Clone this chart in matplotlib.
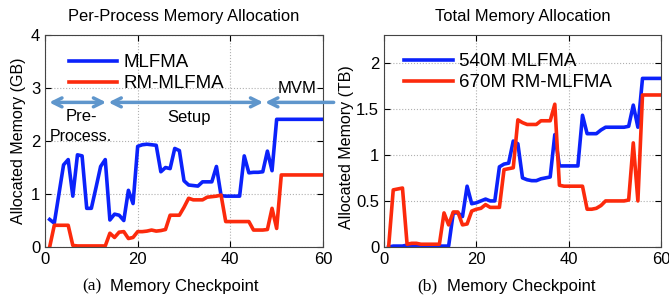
import numpy as np
import matplotlib
matplotlib.use("Agg")
import matplotlib.pyplot as plt

plt.rcParams['font.family'] = ['Liberation Sans', 'DejaVu Sans']

# memory checkpoints 1..60
checkpoints = np.arange(1, 61)

# (a) per-process memory (GB)
per_mlfma = [0.52, 0.45, 1.0, 1.55, 1.65, 0.96, 1.74, 1.72, 0.73, 0.73,
             1.12, 1.52, 1.65, 0.51, 0.62, 0.6, 0.5, 1.07, 0.82, 1.9,
             1.93, 1.94, 1.93, 1.92, 1.42, 1.5, 1.48, 1.86, 1.82, 1.25,
             1.17, 1.16, 1.15, 1.23, 1.23, 1.23, 1.52, 0.97, 0.96, 0.96,
             0.96, 0.96, 1.72, 1.4, 1.41, 1.41, 1.42, 1.81, 1.44, 2.41,
             2.41, 2.41, 2.41, 2.41, 2.41, 2.41, 2.41, 2.41, 2.41, 2.41]
per_rm = [0.0, 0.41, 0.41, 0.41, 0.41, 0.03, 0.02, 0.02, 0.02, 0.02,
          0.02, 0.02, 0.02, 0.26, 0.18, 0.28, 0.29, 0.16, 0.18, 0.29,
          0.29, 0.3, 0.32, 0.3, 0.31, 0.33, 0.6, 0.6, 0.6, 0.75,
          0.92, 0.89, 0.89, 0.89, 0.94, 0.95, 0.96, 0.98, 0.48, 0.48,
          0.48, 0.48, 0.48, 0.48, 0.32, 0.32, 0.32, 0.33, 0.73, 0.35,
          1.36, 1.36, 1.36, 1.36, 1.36, 1.36, 1.36, 1.36, 1.36, 1.36]

# (b) total memory (TB)
tot_mlfma = [0.0, 0.01, 0.01, 0.01, 0.02, 0.02, 0.02, 0.02, 0.01, 0.01,
             0.01, 0.01, 0.01, 0.01, 0.37, 0.37, 0.33, 0.66, 0.47, 0.48,
             0.5, 0.52, 0.5, 0.5, 0.87, 0.9, 0.91, 1.15, 1.12, 0.75,
             0.73, 0.72, 0.72, 0.74, 0.75, 0.76, 1.22, 0.88, 0.88, 0.88,
             0.88, 0.88, 1.43, 1.23, 1.23, 1.23, 1.27, 1.3, 1.3, 1.3,
             1.3, 1.3, 1.31, 1.54, 1.3, 1.83, 1.83, 1.83, 1.83, 1.83]
tot_rm = [0.0, 0.62, 0.63, 0.64, 0.03, 0.04, 0.04, 0.03, 0.03, 0.03,
          0.03, 0.03, 0.37, 0.24, 0.38, 0.38, 0.24, 0.25, 0.39, 0.41,
          0.42, 0.46, 0.43, 0.43, 0.43, 0.84, 0.85, 0.86, 1.38, 1.35,
          1.33, 1.33, 1.33, 1.37, 1.37, 1.37, 1.55, 0.67, 0.66, 0.66,
          0.66, 0.66, 0.66, 0.41, 0.41, 0.42, 0.45, 0.5, 0.5, 0.5,
          0.5, 0.5, 0.51, 1.13, 0.5, 1.65, 1.65, 1.65, 1.65, 1.65]

blue = '#0b22fb'
red = '#fc2a0c'
arrow_c = '#5f96cc'

fig = plt.figure(figsize=(6.69, 3.01), dpi=100)
ax1 = fig.add_axes([0.0673, 0.1794, 0.4155, 0.704])
ax2 = fig.add_axes([0.574, 0.1794, 0.414, 0.704])

ax1.plot(checkpoints, per_mlfma, color=blue, lw=2.6, label='MLFMA')
ax1.plot(checkpoints, per_rm, color=red, lw=2.6, label='RM-MLFMA')
ax2.plot(checkpoints, tot_mlfma, color=blue, lw=2.6, label='540M MLFMA')
ax2.plot(checkpoints, tot_rm, color=red, lw=2.6, label='670M RM-MLFMA')

ax1.set_xlim(0, 60)
ax1.set_ylim(0, 4)
ax1.set_xticks([0, 20, 40, 60])
ax1.set_yticks([0, 1, 2, 3, 4])
ax2.set_xlim(0, 60)
ax2.set_ylim(0, 2.3)
ax2.set_xticks([0, 20, 40, 60])
ax2.set_yticks([0, 0.5, 1, 1.5, 2])
ax2.set_yticklabels(['0', '0.5', '1', '1.5', '2'])

for ax in (ax1, ax2):
    ax.grid(True, linestyle=':', color='#b0b0b0', lw=0.8)
    ax.tick_params(direction='in', top=True, right=True, labelsize=12, length=4)
    for s in ax.spines.values():
        s.set_color('#444444')
        s.set_linewidth(0.8)

ax1.set_title('Per-Process Memory Allocation', fontsize=11.9, pad=10)
ax2.set_title('Total Memory Allocation', fontsize=11.9, pad=10)
ax1.set_ylabel('Allocated Memory (GB)', fontsize=11.5)
ax2.set_ylabel('Allocated Memory (TB)', fontsize=11.5)
ax1.yaxis.set_label_coords(-0.068, 0.5)
ax2.yaxis.set_label_coords(-0.108, 0.47)

fig.text(0.123, 0.047, '(a)', family='Liberation Serif', fontsize=12.5, va='center', ha='left')
fig.text(0.165, 0.047, 'Memory Checkpoint', fontsize=12, va='center', ha='left')
fig.text(0.623, 0.047, '(b)', family='Liberation Serif', fontsize=12.5, va='center', ha='left')
fig.text(0.668, 0.047, 'Memory Checkpoint', fontsize=12, va='center', ha='left')

ax1.legend(loc='upper left', bbox_to_anchor=(0.058, 0.945), frameon=False,
           fontsize=13.5, handlelength=2.6, handletextpad=0.35, labelspacing=0.2,
           borderaxespad=0)
ax2.legend(loc='upper left', bbox_to_anchor=(0.045, 0.95), frameon=False,
           fontsize=13.5, handlelength=2.6, handletextpad=0.35, labelspacing=0.2,
           borderaxespad=0)

# phase arrows
ay = 2.73
aprops = dict(arrowstyle='<->', color=arrow_c, lw=2.5, mutation_scale=16,
              shrinkA=0, shrinkB=0)
ax1.annotate('', xy=(0.9, ay), xytext=(13.2, ay), arrowprops=aprops)
ax1.annotate('', xy=(13.7, ay), xytext=(47.1, ay), arrowprops=aprops)
ax1.annotate('', xy=(47.5, ay), xytext=(62.3, ay), annotation_clip=False,
             arrowprops=dict(arrowstyle='->', color=arrow_c, lw=2.5,
                             mutation_scale=16, shrinkA=0, shrinkB=0))
ax1.text(7.8, 2.47, 'Pre-', fontsize=12, ha='center', va='center')
ax1.text(7.8, 2.08, 'Process.', fontsize=11.5, ha='center', va='center')
ax1.text(31, 2.45, 'Setup', fontsize=12, ha='center', va='center')
ax1.text(50.3, 3.0, 'MVM', fontsize=12, ha='left', va='center')

fig.savefig('out.png', dpi=100)
